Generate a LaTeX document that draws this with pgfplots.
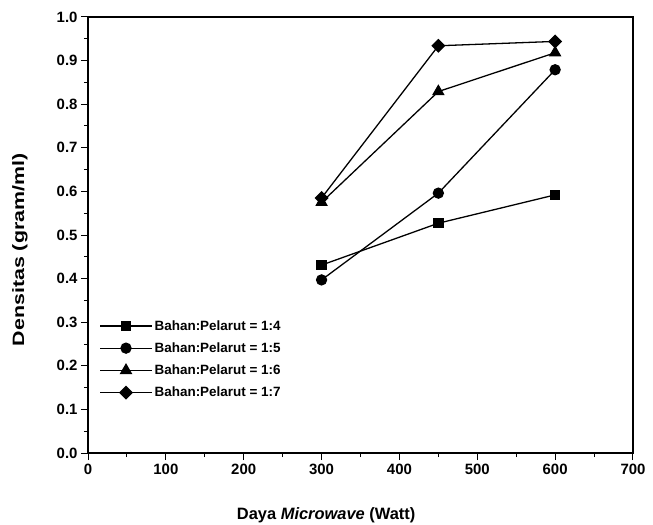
\documentclass[border=0pt]{standalone}
\usepackage{graphicx}
\usepackage{pgfplots}
\pgfplotsset{compat=1.18}
\usepackage{fontspec}
\setmainfont{Liberation Sans}
\begin{document}
\begin{tikzpicture}
\begin{axis}[
  scale only axis,
  width=545bp, height=436bp,
  xmin=0, xmax=700, ymin=0, ymax=1.0,
  xtick={0,100,...,700}, ytick={0,0.1,...,1.0},
  minor x tick num=1, minor y tick num=1,
  xtick pos=left, ytick pos=left,
  tick align=outside,
  major tick length=7bp, minor tick length=4bp,
  axis line style={line width=1.5pt},
  every tick/.style={black, line width=1pt},
  /pgf/number format/assume math mode=true,
  yticklabel style={/pgf/number format/fixed, /pgf/number format/fixed zerofill, /pgf/number format/precision=1},
  xticklabel style={yshift=-1bp},
  ticklabel style={font=\fontsize{15}{15}\selectfont\bfseries},
  xlabel={\bfseries Daya \textit{Microwave} (Watt)},
  ylabel={\scalebox{1.3}[1]{\bfseries Densitas (gram/ml)}},
  label style={font=\fontsize{16.5}{16.5}\selectfont},
  xlabel style={at={(axis description cs:0.437,-0.142)}, anchor=center},
  ylabel style={at={(axis description cs:-0.125,0.466)}, anchor=center, rotate=0},
  legend style={draw=none, fill=none, at={(0.015,0.314)}, anchor=north west,
    font=\fontsize{13.5}{13.5}\selectfont\bfseries, row sep=7bp,
    nodes={inner sep=2bp}},
  legend cell align=left,
  legend image code/.code={
    \draw[#1] (0bp,0bp) -- (52bp,0bp);
    \draw[#1] plot coordinates {(26bp,0bp)};
  },
  every axis plot/.append style={black, line width=1.3pt, mark options={solid}},
]
\addplot[mark=square*, mark size=4.5bp] coordinates {(300,0.431) (450,0.527) (600,0.592)};
\addlegendentry{Bahan:Pelarut = 1:4}
\addplot[mark=*, mark size=5bp] coordinates {(300,0.397) (450,0.596) (600,0.879)};
\addlegendentry{Bahan:Pelarut = 1:5}
\addplot[mark=triangle*, mark size=6bp] coordinates {(300,0.575) (450,0.829) (600,0.918)};
\addlegendentry{Bahan:Pelarut = 1:6}
\addplot[mark=square*, mark size=4.3bp, mark options={solid, rotate=45}] coordinates {(300,0.585) (450,0.934) (600,0.944)};
\addlegendentry{Bahan:Pelarut = 1:7}
\end{axis}
\pgfresetboundingbox
\path (-88bp,-72bp) rectangle (565bp,453bp);
\end{tikzpicture}
\end{document}
